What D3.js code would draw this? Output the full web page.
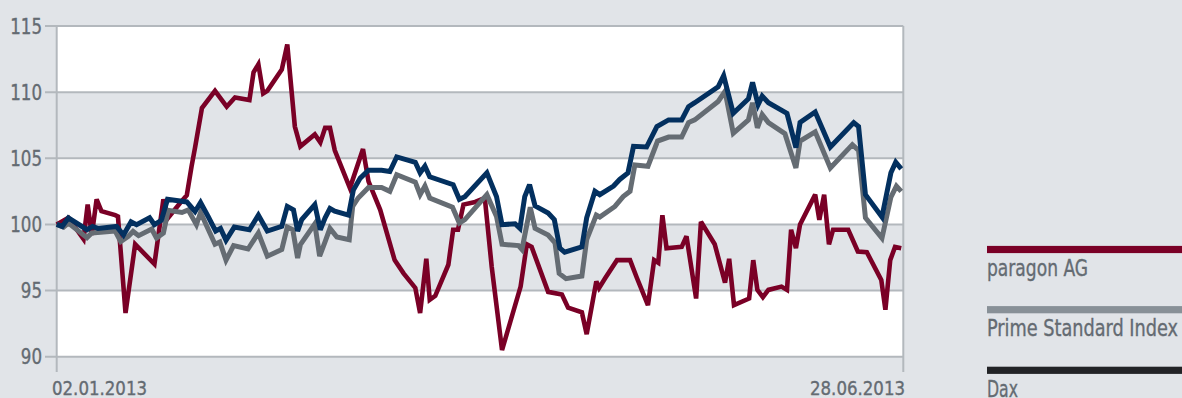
<!DOCTYPE html>
<html><head><meta charset="utf-8">
<script src="https://cdn.jsdelivr.net/npm/d3@7"></script>
<style>
html,body{margin:0;padding:0;background:#e1e4e8;}
svg{display:block;}
text{font-family:"DejaVu Sans Condensed","Liberation Sans Narrow","DejaVu Sans",sans-serif;font-stretch:condensed;fill:#646b72;stroke:#646b72;stroke-width:0.35px;}
</style></head>
<body>
<svg id="chart" width="1182" height="398"></svg>
<script>
// y ticks and x labels
const yTicks = [90, 95, 100, 105, 110, 115];
const xLabels = ["02.01.2013", "28.06.2013"];
const seriesNames = ["paragon AG", "Prime Standard Index", "Dax"];

// paragon AG (trading-day index, indexed value)
const paragonDay = [0,1.7,3.9,4.5,5.1,5.8,6.5,8.5,8.9,10.0,11.4,14.2,15.5,16.2,17.9,18.9,19.6,20.1,21.1,23.0,24.7,25.9,28.0,28.6,29.3,30.0,30.6,32.7,33.5,34.6,35.4,37.5,38.3,39.0,39.7,40.4,42.6,44.5,45.3,47.0,49.1,50.4,52.1,52.8,53.7,54.2,55.0,56.9,57.6,58.3,59.1,60.8,62.2,63.2,64.7,67.4,68.3,69.0,71.4,73.4,74.3,76.3,77.0,78.4,78.8,79.7,81.4,83.3,84.3,85.9,86.8,87.4,88.0,88.6,90.8,91.5,92.9,93.6,95.6,97.1,97.7,98.4,100.6,101.2,101.8,102.6,103.4,105.3,106.1,106.7,107.4,108.0,110.2,110.8,111.5,112.2,112.8,115.0,116.4,117.7,119.8,120.4,121.1,121.8,122.7];
const paragonVal = [100,100.5,98.9,101.5,99.2,101.9,101.0,100.7,100.6,93.3,98.5,97.0,101.9,100.5,101.6,102.2,104.4,105.8,108.8,110.1,108.9,109.6,109.4,111.5,112.1,109.9,110.1,111.7,113.6,107.4,105.9,106.8,106.2,107.3,107.3,105.6,102.75,105.7,103.25,101.1,97.3,96.3,95.2,93.3,97.4,94.3,94.6,96.95,99.6,99.6,101.5,101.7,102.0,96.8,90.5,95.3,98.5,98.3,94.9,94.7,93.7,93.35,91.7,95.7,95.2,95.95,97.3,97.3,95.95,93.9,97.3,97.1,100.7,98.2,98.3,99.1,94.4,100.2,98.5,95.6,97.4,93.9,94.4,97.3,95.05,94.5,95.05,95.3,95.05,99.6,98.2,100.0,102.25,100.35,102.25,98.5,99.6,99.6,97.95,97.9,95.8,93.55,97.3,98.3,98.2];

// Prime Standard Index
const primeDay = [0,1.0,1.7,4.4,5.1,8.5,9.3,10.4,11.1,11.9,13.8,14.5,15.5,16.2,18.2,19.1,20.3,20.9,23.0,23.7,24.6,25.7,27.8,29.3,30.6,32.7,33.5,34.3,35.0,35.4,37.5,38.2,39.0,39.7,40.7,42.5,43.0,43.8,45.3,47.2,48.4,49.4,52.1,52.8,53.5,54.2,57.5,58.5,59.3,62.5,63.9,64.7,67.1,67.6,68.8,69.5,71.4,72.4,73.0,74.0,76.3,77.0,78.4,78.9,81.1,82.3,83.3,84.0,85.9,87.3,88.9,90.8,91.8,92.7,96.1,97.1,98.3,100.5,101.1,101.8,102.5,103.4,105.8,107.4,108.0,110.2,112.4,115.6,116.5,117.5,119.9,121.2,122.0,122.7];
const primeVal = [100,99.8,100.1,99.0,99.35,99.5,98.7,99.1,99.47,99.15,99.65,98.97,99.35,101.06,100.9,101.1,99.98,100.9,98.5,98.67,97.3,98.4,98.14,99.35,97.6,98.1,99.8,99.6,97.46,98.47,100.05,97.6,98.7,99.7,99.05,98.85,101.36,102.0,102.8,102.8,102.5,103.76,103.2,102.25,102.9,102.0,101.3,100.1,100.36,102.25,100.6,98.5,98.4,98.1,101.3,99.7,99.2,98.6,96.3,95.9,96.1,98.85,100.7,100.56,101.36,102.1,102.5,104.5,104.4,106.3,106.6,106.6,107.7,107.9,109.3,110.06,106.9,107.9,109.2,107.3,108.3,107.7,106.86,104.27,106.3,107.0,104.27,106.03,105.6,100.5,98.97,102.07,102.9,102.5];

// Dax
const daxDay = [0,0.8,1.7,4.4,5.2,6.0,8.7,9.7,10.8,11.6,13.5,14.2,15.2,16.1,18.9,20.1,20.9,22.0,23.1,23.8,24.6,25.8,28.0,29.3,30.6,32.7,33.5,34.4,35.0,35.6,37.5,38.3,39.0,39.7,40.4,42.4,43.1,44.1,45.3,47.2,48.4,49.4,52.1,52.8,53.5,54.2,57.6,58.5,59.3,62.5,63.9,64.7,66.6,67.3,68.0,68.7,69.5,71.4,72.3,73.1,73.8,76.3,77.0,78.2,78.9,80.9,81.8,83.0,83.8,85.7,87.2,88.9,90.8,91.8,92.7,96.1,96.9,98.3,100.5,101.1,101.9,102.5,103.4,106.1,107.4,108.0,110.2,112.4,115.8,116.5,117.5,119.9,121.2,121.9,122.7];
const daxVal = [100,99.85,100.5,99.6,99.85,99.7,99.85,99.2,100.2,99.98,100.5,99.98,100.3,101.9,101.7,100.98,101.66,100.6,99.5,99.7,98.8,99.8,99.6,100.7,99.5,99.85,101.36,101.1,99.5,100.36,101.5,99.6,100.5,101.2,101.0,100.7,102.6,103.5,104.1,104.1,104.0,105.1,104.7,103.9,104.4,103.6,103.0,101.9,102.1,103.9,102.1,99.98,100.05,99.7,102.1,103.0,101.4,100.86,100.36,98.2,97.9,98.3,100.5,102.5,102.25,102.9,103.4,103.9,105.9,105.85,107.4,107.9,107.9,108.9,109.2,110.4,111.25,108.4,109.5,110.74,109.05,109.7,109.2,108.4,105.8,107.7,108.5,105.85,107.7,107.4,102.25,100.56,103.9,104.7,104.2];

const colors = {paragon:"#7a0026", prime:"#656c73", dax:"#03305f"};
const legendColors = ["#7a0026", "#889097", "#222326"];

const svg = d3.select("#chart");
const W = 1182, H = 398;
const plot = {left:56.7, right:903.3, top:26, bottom:356.7};

const x = d3.scaleLinear().domain([0,123]).range([plot.left, plot.right]);
const y = d3.scaleLinear().domain([90,115]).range([plot.bottom, plot.top]);

svg.append("rect").attr("width",W).attr("height",H).attr("fill","#e1e4e8");
svg.append("rect").attr("x",plot.left).attr("y",plot.top)
  .attr("width",plot.right-plot.left).attr("height",plot.bottom-plot.top).attr("fill","#ffffff");

// gray bands between alternating ticks
const bandPairs = [[105,110],[95,100]];
svg.selectAll("rect.band").data(bandPairs).join("rect").attr("class","band")
  .attr("x",plot.left).attr("width",plot.right-plot.left)
  .attr("y",d=>y(d[1])).attr("height",d=>y(d[0])-y(d[1])).attr("fill","#e1e4e8");

// grid lines
svg.selectAll("line.grid").data(yTicks).join("line").attr("class","grid")
  .attr("x1",45).attr("x2",plot.right).attr("y1",d=>y(d)).attr("y2",d=>y(d))
  .attr("stroke","#b3b8bd").attr("stroke-width",2);

// vertical axis lines
svg.append("line").attr("x1",plot.left).attr("x2",plot.left).attr("y1",plot.top).attr("y2",372)
  .attr("stroke","#b3b8bd").attr("stroke-width",2);
svg.append("line").attr("x1",plot.right).attr("x2",plot.right).attr("y1",plot.top).attr("y2",372)
  .attr("stroke","#b3b8bd").attr("stroke-width",2);

// y labels
svg.selectAll("text.yl").data(yTicks).join("text").attr("class","yl")
  .attr("x",42).attr("y",d=>y(d)).attr("dy","0.36em").attr("text-anchor","end")
  .attr("font-size",21).attr("textLength",d=>String(d).length*10.6).attr("lengthAdjust","spacingAndGlyphs")
  .text(d=>d);

// x labels
svg.append("text").attr("x",52).attr("y",395).attr("font-size",19.5)
  .attr("textLength",95).attr("lengthAdjust","spacingAndGlyphs").text(xLabels[0]);
svg.append("text").attr("x",810).attr("y",395).attr("font-size",19.5)
  .attr("textLength",95).attr("lengthAdjust","spacingAndGlyphs").text(xLabels[1]);

// series
const line = d3.line().x(d=>x(d[0])).y(d=>y(d[1]));
const series = [
  {name:"paragon", day:paragonDay, val:paragonVal, color:colors.paragon, w:4.6},
  {name:"prime", day:primeDay, val:primeVal, color:colors.prime, w:5},
  {name:"dax", day:daxDay, val:daxVal, color:colors.dax, w:5}
];
series.forEach(s=>{
  const pts = s.day.map((d,i)=>[d, s.val[i]]);
  svg.append("path").datum(pts).attr("d",line).attr("fill","none")
    .attr("stroke",s.color).attr("stroke-width",s.w)
    .attr("stroke-linejoin","miter").attr("stroke-miterlimit",3);
});

// legend
const legY = [249.5, 309.7, 370.3];
const legTextY = [275.5, 336, 397];
const legLen = [101, 191, 31];
const lg = svg.append("g");
seriesNames.forEach((n,i)=>{
  lg.append("rect").attr("x",987).attr("y",legY[i]-3.6).attr("width",W-987).attr("height",7.2).attr("fill",legendColors[i]);
  lg.append("text").attr("x",987).attr("y",legTextY[i]).attr("font-size",23.5)
    .attr("textLength",legLen[i]).attr("lengthAdjust","spacingAndGlyphs").text(n);
});
</script>
</body></html>
